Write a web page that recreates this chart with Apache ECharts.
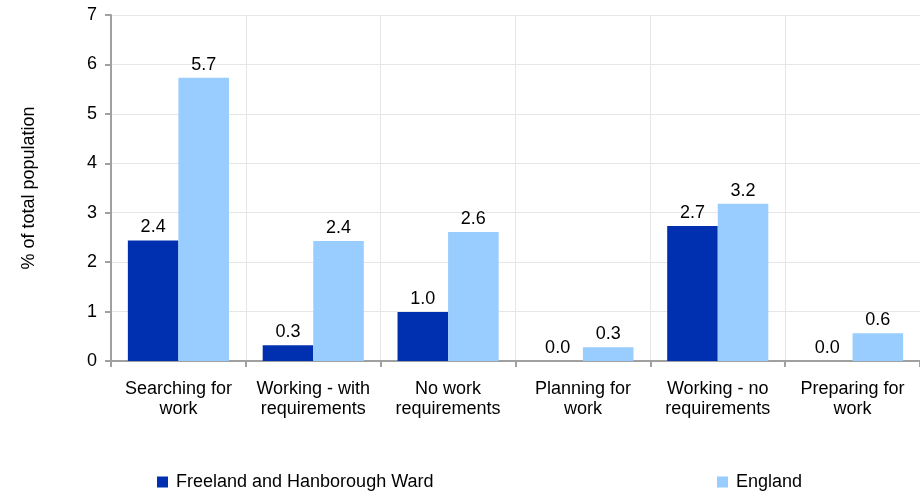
<!DOCTYPE html>
<html><head><meta charset="utf-8">
<script src="https://cdn.jsdelivr.net/npm/echarts@6/dist/echarts.min.js"></script>
<style>html,body{margin:0;padding:0;background:#fff}#c{width:920px;height:491px}</style>
</head><body><div id="c"></div>
<script>
const categories = ["Searching for\nwork", "Working - with\nrequirements", "No work\nrequirements", "Planning for\nwork", "Working - no\nrequirements", "Preparing for\nwork"];
const wardValues = [2.44, 0.32, 0.99, 0.0, 2.73, 0.0];
const englandValues = [5.73, 2.43, 2.61, 0.28, 3.18, 0.56];
const yTicks = [0, 1, 2, 3, 4, 5, 6, 7];
const seriesNames = ["Freeland and Hanborough Ward", "England"];

const font = 'Liberation Sans, Arial, sans-serif';
const fs = 18;
const chart = echarts.init(document.getElementById('c'));
const lbl = {show: true, position: 'top', distance: 4, color: '#000', fontSize: fs, fontFamily: font, formatter: p => p.value.toFixed(1)};
const legText = {fontSize: fs, fontFamily: font, color: '#000', padding: [0, 0, 0, 3]};
chart.setOption({
  animation: false,
  grid: {left: 111, right: -3, top: 15, bottom: 130},
  legend: [
    {data: [seriesNames[0]], left: 152, top: 468, itemWidth: 11, itemHeight: 11, icon: 'rect', textStyle: legText},
    {data: [seriesNames[1]], left: 712, top: 468, itemWidth: 11, itemHeight: 11, icon: 'rect', textStyle: legText}
  ],
  xAxis: {
    type: 'category', data: categories,
    axisLine: {lineStyle: {color: '#a0a0a0', width: 2}},
    axisTick: {show: true, length: 6, lineStyle: {color: '#a0a0a0', width: 2}},
    splitLine: {show: true, lineStyle: {color: '#e6e6e6', width: 1}},
    axisLabel: {color: '#000', fontSize: fs, fontFamily: font, lineHeight: 20, margin: 18, interval: 0}
  },
  yAxis: {
    type: 'value', min: yTicks[0], max: yTicks[yTicks.length - 1], interval: 1,
    name: '% of total population', nameLocation: 'middle', nameGap: 73,
    nameTextStyle: {color: '#000', fontSize: fs, fontFamily: font},
    axisLine: {show: true, lineStyle: {color: '#a0a0a0', width: 2}},
    axisTick: {show: true, length: 6, lineStyle: {color: '#a0a0a0', width: 2}},
    splitLine: {show: true, lineStyle: {color: '#e6e6e6', width: 1}},
    axisLabel: {color: '#000', fontSize: fs, fontFamily: font, margin: 14}
  },
  series: [
    {name: seriesNames[0], type: 'bar', data: wardValues, itemStyle: {color: '#0030b0'}, barGap: '0%', barCategoryGap: '25%', label: lbl},
    {name: seriesNames[1], type: 'bar', data: englandValues, itemStyle: {color: '#99ccff'}, barGap: '0%', barCategoryGap: '25%', label: lbl}
  ]
});
</script></body></html>
